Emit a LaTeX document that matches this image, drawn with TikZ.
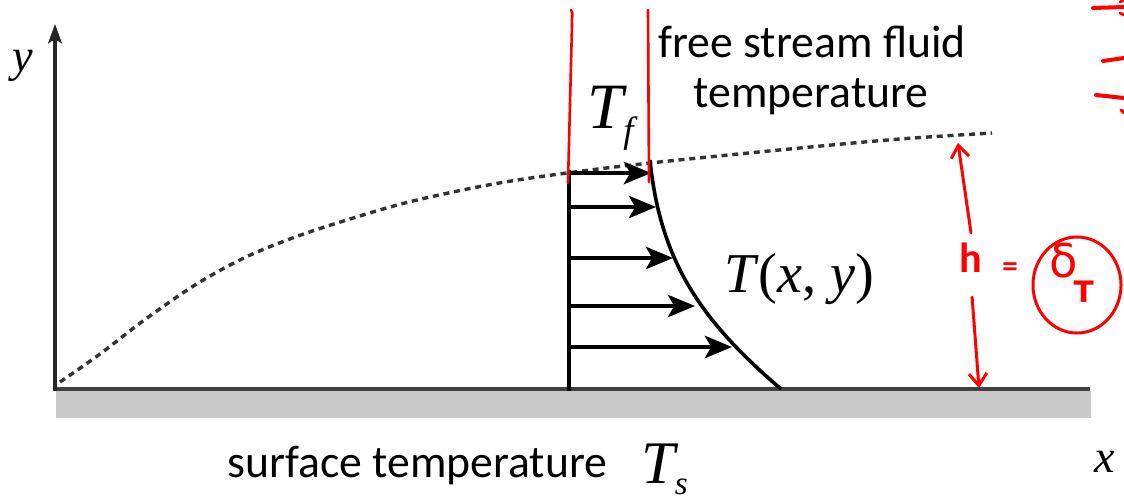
\documentclass[tikz,border=0pt]{standalone}
\usepackage{fontspec}
\setmainfont{Carlito}
\newfontfamily\tms{Liberation Serif}
\newfontfamily\dvs{DejaVu Sans}
\usetikzlibrary{arrows.meta,shapes.geometric}
\begin{document}
\begin{tikzpicture}[x=0.025cm,y=-0.025cm,
  prof/.style={line width=0.09cm, black},
  parrow/.style={line width=0.09cm, black, -{Stealth[length=0.68cm,width=0.56cm,inset=0.16cm]}},
  redline/.style={line width=0.075cm, red, line cap=round},
  redarrow/.style={redline, -{Straight Barb[length=0.3cm,width=0.45cm]}},
  lbl/.style={inner sep=0, anchor=base west},
  sans/.style={inner sep=0, anchor=base, font=\fontsize{32.5}{35}\selectfont},
]
\useasboundingbox (0,0) rectangle (1124,500);
\fill[white] (0,0) rectangle (1124,500);
% plate
\fill[gray!42] (56,391) rectangle (1091,418);
\draw[line width=0.11cm, black!75] (55,389) -- (1090,389);
% y axis
\coordinate (O) at (55,391);
\coordinate (ytop) at (55,24);
\draw[line width=0.085cm, black!85, -{Stealth[length=0.48cm,width=0.34cm,inset=0.1cm]}] (O) -- (ytop);
% boundary layer edge (dotted)
\draw[line width=0.085cm, black!80, dash pattern=on 0.15cm off 0.12cm]
  plot[smooth, tension=0.55] coordinates {(60,382) (100,354) (143,321) (195,285) (246,257) (298,236) (350,219) (401,204) (453,192) (505,182) (567,173) (650,163) (800,148) (900,139) (992,133)};
% temperature profile
\coordinate (pb) at (569,391);
\coordinate (pt) at (569,170);
\draw[prof] (pb) -- (pt);
\coordinate (ct) at (650,160);
\coordinate (cb) at (781,389);
\draw[prof] (ct) .. controls (660,260) and (700,320) .. (cb);
\coordinate (s1) at (569,173); \coordinate (e1) at (651,173);
\coordinate (s2) at (569,207); \coordinate (e2) at (656,207);
\coordinate (s3) at (569,258); \coordinate (e3) at (673,258);
\coordinate (s4) at (569,306); \coordinate (e4) at (695,306);
\coordinate (s5) at (569,347); \coordinate (e5) at (732,347);
\foreach \i in {1,...,5} {\draw[parrow] (s\i) -- (e\i);}
% labels
\node[sans] (fs1) at (812,57) {free stream fluid};
\node[sans] (fs2) at (811,107) {temperature};
\node[lbl, font=\fontsize{32.5}{35}\selectfont] (surf) at (227,477) {surface temperature};
\node[lbl] (Tf) at (587,128) {\tms\itshape\fontsize{46}{46}\selectfont T\raisebox{-10.5pt}{\fontsize{26}{26}\selectfont f}};
\node[lbl] (Ts) at (641,483) {\tms\itshape\fontsize{43}{43}\selectfont T\raisebox{-8.5pt}{\fontsize{23.5}{23.5}\selectfont s}};
\node[lbl] (Txy) at (724,292) {\tms\fontsize{40}{40}\selectfont\textit{T}(\textit{x}, \textit{y})};
\node[lbl] (xl) at (1094,472) {\tms\itshape\fontsize{33}{33}\selectfont x};
\node[lbl] (yl) at (12,71) {\tms\itshape\fontsize{33}{33}\selectfont y};
% red annotations
\draw[redline, line width=0.065cm] (571,10) .. controls (574,14) and (571,18) .. (572,25) -- (568,183);
\draw[redline, line width=0.065cm] (648,10) -- (649,182);
\node[text=red, inner sep=0, inner ysep=0.25cm, font=\fontsize{30}{30}\selectfont\bfseries] (h) at (971,258) {h};
\coordinate (hup) at (958,143);
\coordinate (hdn) at (979,388);
\draw[redarrow] (h.north) -- (hup);
\draw[redarrow, shorten <=0.35cm] (h.south) -- (hdn);
\node[text=red, inner sep=0, font=\fontsize{22}{22}\selectfont\bfseries] (eq) at (1010,270) {=};
\node[lbl, text=red] (dT) at (1049,277) {\dvs\fontsize{33}{33}\selectfont δ\kern-2.8pt\raisebox{-17.8pt}{\bfseries\fontsize{21}{21}\selectfont T}};
\node[draw=red, line width=0.075cm, ellipse, minimum width=2.2cm, minimum height=2.4cm, inner sep=0] (circ) at (1077,285) {};
% cut-off red marks at top right
\draw[redline, line width=0.1cm] (1093,8) -- (1124,7);
\draw[redline, line width=0.07cm] (1120,2) -- (1124,0);
\draw[redline, line width=0.07cm] (1120,13) -- (1124,15);
\draw[redline, line width=0.1cm] (1103,61) -- (1124,58);
\draw[redline, line width=0.1cm] (1096,95) -- (1124,98);
\draw[redline, line width=0.08cm] (1121,110) -- (1124,113);
\end{tikzpicture}
\end{document}
